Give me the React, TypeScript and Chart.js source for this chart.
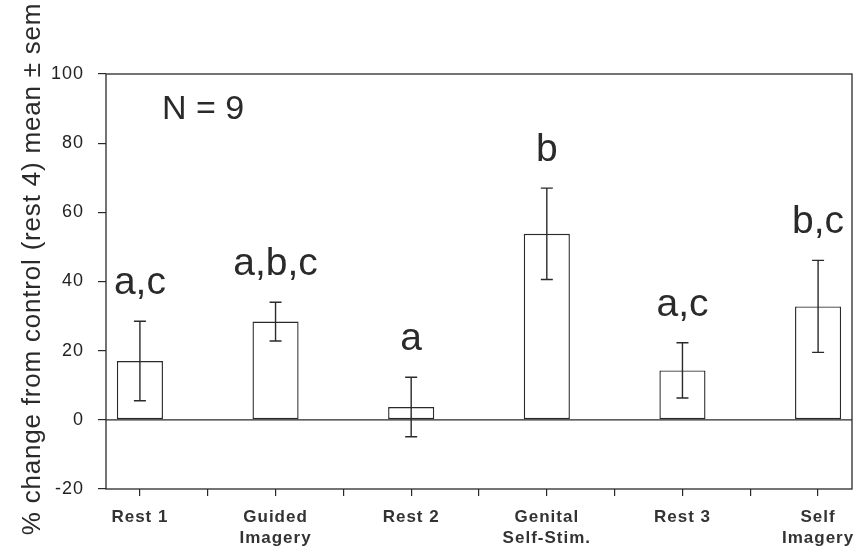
import React, { useEffect, useRef } from "react";
import { Chart, registerables } from "chart.js";

Chart.register(...registerables);

const categories: string[][] = [
  ["Rest 1"],
  ["Guided", "Imagery"],
  ["Rest 2"],
  ["Genital", "Self-Stim."],
  ["Rest 3"],
  ["Self", "Imagery"],
];
const means: number[] = [17, 28.4, 3.7, 53.8, 14.3, 32.8];
const sems: number[] = [11.5, 5.6, 8.6, 13.2, 8.0, 13.3];
const letters: string[] = ["a,c", "a,b,c", "a", "b", "a,c", "b,c"];
const yMin = -20;
const yMax = 100;
const yStep = 20;
const noteText = "N = 9";
const yTitle = "% change from control (rest 4) mean \u00B1 sem";

const FONT = "'Liberation Sans', Arial, Helvetica, sans-serif";
const INK = "#2a2a2a";

const extras = {
  id: "extras",
  beforeDraw(chart: any) {
    chart.ctx.letterSpacing = "1px";
  },
  beforeDatasetsDraw(chart: any) {
    const { ctx, chartArea, scales } = chart;
    const y0 = scales.y.getPixelForValue(0);
    ctx.save();
    ctx.strokeStyle = INK;
    ctx.lineWidth = 1.3;
    ctx.beginPath();
    ctx.moveTo(chartArea.left, y0);
    ctx.lineTo(chartArea.right, y0);
    ctx.stroke();
    ctx.restore();
  },
  afterDatasetsDraw(chart: any) {
    const { ctx, scales } = chart;
    ctx.save();
    ctx.strokeStyle = INK;
    ctx.lineWidth = 1.4;
    means.forEach((m, i) => {
      const x = scales.x.getPixelForValue(i);
      const yt = scales.y.getPixelForValue(m + sems[i]);
      const yb = scales.y.getPixelForValue(m - sems[i]);
      ctx.beginPath();
      ctx.moveTo(x, yt);
      ctx.lineTo(x, yb);
      ctx.moveTo(x - 6, yt);
      ctx.lineTo(x + 6, yt);
      ctx.moveTo(x - 6, yb);
      ctx.lineTo(x + 6, yb);
      ctx.stroke();
    });
    ctx.restore();
  },
  afterDraw(chart: any) {
    const { ctx, chartArea, scales } = chart;
    ctx.save();
    ctx.letterSpacing = "0px";
    // frame
    ctx.strokeStyle = INK;
    ctx.lineWidth = 1.3;
    ctx.strokeRect(
      chartArea.left,
      chartArea.top,
      chartArea.right - chartArea.left,
      chartArea.bottom - chartArea.top
    );
    // significance letters
    ctx.fillStyle = INK;
    ctx.font = `39px ${FONT}`;
    ctx.textAlign = "center";
    ctx.textBaseline = "alphabetic";
    letters.forEach((t, i) => {
      const x = scales.x.getPixelForValue(i);
      const y = scales.y.getPixelForValue(means[i] + sems[i]) - 27;
      ctx.fillText(t, x, y);
    });
    // N = 9
    ctx.font = `34px ${FONT}`;
    ctx.textAlign = "left";
    ctx.fillText(noteText, chartArea.left + 56, chartArea.top + 45);
    // y title
    ctx.font = `26px ${FONT}`;
    ctx.letterSpacing = "0.8px";
    ctx.textAlign = "center";
    ctx.textBaseline = "middle";
    ctx.translate(33, 269);
    ctx.rotate(-Math.PI / 2);
    ctx.fillText(yTitle, 0, 0);
    ctx.restore();
  },
};

export default function App() {
  const ref = useRef<HTMLCanvasElement | null>(null);

  useEffect(() => {
    if (!ref.current) return;
    const tickValues: number[] = [];
    categories.forEach((_, i) => {
      tickValues.push(i);
      if (i < categories.length - 1) tickValues.push(i + 0.5);
    });

    const chart = new Chart(ref.current, {
      type: "bar",
      data: {
        datasets: [
          {
            data: means.map((m, i) => ({ x: i, y: m })),
            backgroundColor: "#ffffff",
            borderColor: INK,
            borderWidth: 1.4,
            borderSkipped: false,
            barPercentage: 0.68,
            categoryPercentage: 1,
          } as any,
        ],
      },
      options: {
        animation: false,
        responsive: false,
        maintainAspectRatio: false,
        layout: { padding: { top: 74, right: 6, left: 0, bottom: 0 } },
        plugins: {
          legend: { display: false },
          tooltip: { enabled: false },
        },
        scales: {
          x: {
            type: "linear",
            offset: false,
            min: -0.25,
            max: categories.length - 0.75,
            afterBuildTicks: (scale: any) => {
              scale.ticks = tickValues.map((v) => ({ value: v }));
            },
            afterFit: (scale: any) => {
              scale.height = 59;
              scale.paddingLeft = 0;
              scale.paddingRight = 0;
            },
            grid: {
              offset: false,
              drawOnChartArea: false,
              drawTicks: true,
              tickLength: 7,
              color: INK,
              lineWidth: 1.2,
            },
            border: { display: false },
            ticks: {
              autoSkip: false,
              maxRotation: 0,
              minRotation: 0,
              padding: 11,
              color: "#333",
              font: { family: FONT, size: 17, weight: "bold", lineHeight: 1.22 },
              callback: (v: any) =>
                Number.isInteger(v) ? categories[v as number] : "",
            },
          },
          y: {
            min: yMin,
            max: yMax,
            afterFit: (scale: any) => {
              scale.width = 106;
              scale.paddingTop = 0;
              scale.paddingBottom = 0;
            },
            grid: {
              drawOnChartArea: false,
              drawTicks: true,
              tickLength: 8,
              color: INK,
              lineWidth: 1.2,
            },
            border: { display: false },
            ticks: {
              stepSize: yStep,
              padding: 14,
              color: "#222",
              font: { family: FONT, size: 18 },
            },
          },
        },
      },
      plugins: [extras],
    });
    return () => chart.destroy();
  }, []);

  return (
    <div
      style={{
        position: "fixed",
        left: 0,
        top: 0,
        width: 858,
        height: 548,
        background: "#fff",
      }}
    >
      <canvas ref={ref} width={858} height={548} style={{ width: 858, height: 548 }} />
    </div>
  );
}
